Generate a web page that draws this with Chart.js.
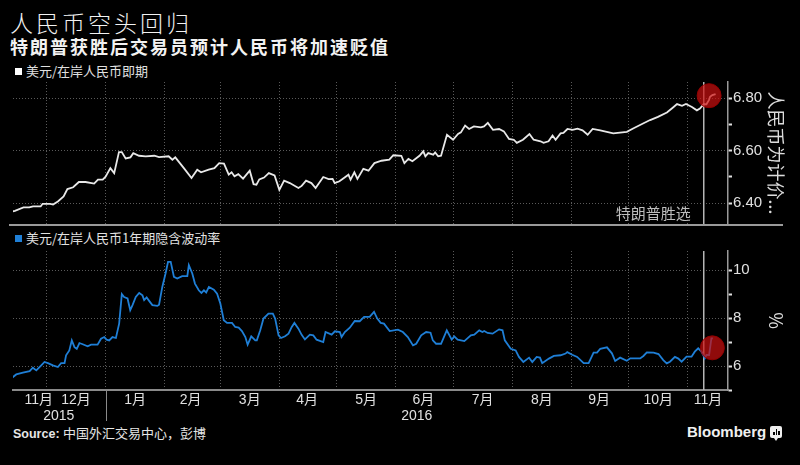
<!DOCTYPE html>
<html><head><meta charset="utf-8">
<script src="https://cdn.jsdelivr.net/npm/chart.js@4.4.1/dist/chart.umd.min.js"></script>
<style>
html,body{margin:0;padding:0;background:#000;}
#wrap{position:relative;width:800px;height:465px;overflow:hidden;background:#000;font-family:'Liberation Sans','Noto Sans CJK SC',sans-serif;color:#ddd;}
canvas{position:absolute;left:0;top:0;}
.t{position:absolute;white-space:nowrap;}
#title{left:10px;top:9px;font-family:'Noto Sans CJK SC';font-size:23px;line-height:26px;letter-spacing:3px;font-weight:300;color:#f2f2f2;}
#sub{left:10px;top:35px;font-family:'Noto Sans CJK SC';font-size:18px;line-height:22px;letter-spacing:2px;font-weight:700;color:#f2f2f2;}
.leg{left:15px;font-family:'Noto Sans CJK SC';font-size:13px;line-height:16px;color:#e0e0e0;}
.sq{display:inline-block;width:7px;height:7px;margin-right:4px;vertical-align:1px;}
#sep{position:absolute;left:9px;top:224px;width:774px;height:2px;background:#9a9a9a;}
#src{left:13px;top:425px;font-size:12.5px;line-height:16px;color:#e6e6e6;}
#src b{font-family:'Liberation Sans';}
#src span{font-family:'Noto Sans CJK SC';font-size:13px;}
#bb{left:687px;top:423px;font-family:'Liberation Sans';font-weight:700;font-size:15px;line-height:18px;color:#f0f0f0;}
#ico{position:absolute;left:770px;top:426px;width:12px;height:12px;background:#eee;border-radius:2px;}
#ico i{position:absolute;bottom:3px;width:1.5px;background:#000;}
#ico:after{content:'';position:absolute;left:4px;top:12px;border-left:2px solid transparent;border-right:2px solid transparent;border-top:3px solid #eee;}
</style></head><body>
<div id="wrap">
<div class="t" id="title">人民币空头回归</div>
<div class="t" id="sub">特朗普获胜后交易员预计人民币将加速贬值</div>
<div class="t leg" style="top:63px"><span class="sq" style="background:#fff"></span>美元/在岸人民币即期</div>
<div id="sep"></div>
<div class="t leg" style="top:230px"><span class="sq" style="background:#1f7fd6"></span>美元/在岸人民币1年期隐含波动率</div>
<div class="t" id="src"><b>Source:</b> <span>中国外汇交易中心，彭博</span></div>
<div class="t" id="bb">Bloomberg</div>
<div id="ico"><i style="left:3px;height:3px"></i><i style="left:5.5px;height:6px"></i><i style="left:8px;height:4px"></i></div>
<canvas id="c1" width="800" height="465"></canvas>
<canvas id="c2" width="800" height="465"></canvas>
</div>
<script>
// x values are days counted from 2016-01-01
const spotDays = [-49,-47.5,-43,-40,-38,-34,-33,-29,-27.5,-25,-22,-20,-17,-14,-10.5,-6,-4,-1.5,0,2.5,4.5,7,8.5,10.5,13,14.5,17.5,21,25.5,28,33,35,36.5,41,45,48,50,54,57,59.5,62,64.5,66,67.5,69.5,72,75.5,77.5,79,80.5,83,85.5,88.5,91,93.5,96.5,101,102.7,105,107.8,110,114,116.8,118.9,120,122.5,127.2,128.3,130.3,131.9,135,137.7,140.8,144.5,148.6,150.7,154.9,156.5,158.6,160.7,164.4,166.4,167.5,169,171.6,172.6,174.2,175.7,178.8,182,184.6,186.1,188.3,190.4,192.9,196.6,198.2,200.2,202.9,206.1,208.6,211.3,213.8,215.4,218.6,222,224.2,227.8,229.4,232,234.1,235.7,238.3,239.8,241.9,244.6,247.2,249.8,252.5,255.1,259.1,265.9,273,276.3,281.5,285.2,289.3,294,297.2,299.3,301.9,304,307.1,309.7,311.3,313.3,314.7,316,316.6,317.8,319.5];
const spotValues = [6.368,6.370,6.383,6.383,6.387,6.387,6.397,6.397,6.394,6.406,6.425,6.453,6.460,6.480,6.480,6.474,6.489,6.489,6.500,6.533,6.514,6.594,6.594,6.570,6.574,6.590,6.580,6.578,6.580,6.575,6.578,6.565,6.574,6.533,6.495,6.527,6.517,6.527,6.533,6.552,6.550,6.508,6.517,6.502,6.510,6.493,6.523,6.472,6.470,6.490,6.497,6.514,6.505,6.450,6.485,6.476,6.457,6.465,6.485,6.476,6.457,6.499,6.491,6.492,6.476,6.483,6.508,6.489,6.517,6.492,6.530,6.523,6.552,6.561,6.565,6.582,6.580,6.552,6.568,6.559,6.580,6.597,6.578,6.590,6.584,6.593,6.578,6.580,6.660,6.641,6.663,6.669,6.695,6.682,6.692,6.688,6.692,6.705,6.679,6.682,6.673,6.644,6.641,6.629,6.641,6.663,6.641,6.635,6.629,6.635,6.657,6.641,6.665,6.667,6.682,6.679,6.683,6.677,6.660,6.682,6.677,6.665,6.671,6.684,6.703,6.716,6.728,6.745,6.764,6.777,6.770,6.777,6.766,6.753,6.760,6.777,6.776,6.792,6.805,6.811,6.815];
const volDays = [-49,-46.8,-43.3,-39.8,-38.1,-36.3,-33.7,-32,-30.2,-27.6,-25,-23.3,-21.5,-20.7,-19,-17.7,-16.3,-15.1,-13.7,-12,-9.4,-7.6,-4.2,-2.4,-0.7,0.5,1.9,3.6,5.4,7.1,8.5,9.7,11.5,12.9,14.1,15.8,17.6,19.3,20.2,21.5,22.8,24.5,27.1,28,29.7,31.4,32.7,34.1,35.8,37.5,40.1,42.8,43.6,45.4,46.8,48.8,50.2,51.5,52.7,54.1,56.7,58.4,60.1,61.9,63.6,66.2,67.9,69.7,71.4,73.2,74.4,76.3,78.4,79.2,81,82.7,85.3,87.6,88.8,90.6,91.9,94,95.8,97.5,98.9,101,102.7,104.4,107,108.8,110.5,114,115.2,118.4,120.1,122.7,123.6,125.3,127.9,130.5,133.1,135.4,138.3,140.6,142.3,144.1,145.8,148.8,153.1,155.7,158.3,161,162.7,165.3,167.9,170.2,171.4,173.1,175.7,178.7,181.3,182.6,184.4,187.9,191.3,193.1,195.7,197.4,198.3,200.1,202.7,206.1,207.9,209.1,212.2,214.8,216.5,218.8,221.8,223.5,225.8,227.5,228.7,232.2,234.8,238.3,240.9,241.8,244.4,247,250.4,253,255.6,257.4,259.1,262.6,265.2,266.9,269.5,273,274.8,280,281.7,283.5,287,289.6,292.1,293.9,295.6,298.2,300,301.7,304.3,306.9,308.6,310.4,312.1,313.3,313.8,314.7,316.1,317.3,317.6];
const volValues = [5.51,5.65,5.72,5.79,5.93,5.82,6.03,6.17,6.12,6.03,5.96,6.12,6.12,6.45,6.65,7.07,6.79,6.72,6.96,6.91,6.82,6.89,6.89,7.14,7.21,7.10,7.07,7.21,7.17,7.77,9.00,8.88,8.82,8.33,8.54,8.88,9.05,8.95,8.75,8.86,8.72,8.54,8.51,8.56,9.30,9.86,10.35,10.35,9.72,9.65,9.75,9.75,10.21,9.86,9.44,9.16,9.05,9.16,9.07,9.30,9.19,9.02,8.61,7.91,7.80,7.80,7.63,7.60,7.46,7.21,6.89,7.24,7.07,7.07,7.49,7.98,8.19,8.19,7.98,7.28,7.17,7.24,7.35,7.63,7.80,7.56,7.30,7.11,7.31,7.28,7.10,7.00,7.42,7.31,7.45,7.42,7.21,7.42,7.60,7.88,7.87,8.05,8.05,8.26,7.98,7.80,7.77,7.46,7.52,7.42,7.21,6.86,6.93,7.28,7.42,7.39,7.07,6.93,6.93,7.49,7.10,7.24,7.10,7.04,7.28,7.31,7.49,7.42,7.46,7.38,7.35,7.53,7.49,7.07,6.72,6.65,6.38,6.17,6.35,6.17,6.38,6.35,6.12,6.31,6.42,6.45,6.52,6.58,6.47,6.38,6.12,6.12,6.56,6.56,6.72,6.78,6.53,6.21,6.35,6.22,6.32,6.32,6.42,6.57,6.56,6.50,6.25,6.11,6.18,6.38,6.31,6.18,6.39,6.39,6.60,6.74,6.60,6.42,6.32,6.46,6.46,7.15,7.19];

const electionDay = 313.3;
const electionLabel = '特朗普胜选';
const spotCircle = {x: 316.1, y: 6.809};
const volCircle = {x: 317.8, y: 6.76};

const xMin = -48.5, xMax = 326;
const spotMin = 6.32, spotMax = 6.861;
const volMin = 5, volMax = 10.8;

const monthBoundaries = [-31,0,31,60,91,121,152,182,213,244,274,305];
const monthLabelDays = [-35,-15.5,15.5,44.5,75.5,105.5,136.5,166.5,197.5,228.5,258.5,289.5,315.5];
const monthLabels = ['11月','12月','1月','2月','3月','4月','5月','6月','7月','8月','9月','10月','11月'];
const yearLabelDays = [-24.5,163];
const yearLabels = ['2015','2016'];

const spotTicks = [6.4,6.5,6.6,6.7,6.8];
const spotLabeled = [6.4,6.6,6.8];
const volTicks = [5,6,7,8,9,10];
const volLabeled = [6,8,10];

const spotTitle = '人民币为计价...';
const volTitle = '%';

const GRID = '#5a5a5a';
const FONT = "'Liberation Sans','Noto Sans CJK SC',sans-serif";
const near = (a,b) => Math.abs(a-b) < 1e-6;
const inList = (v, list) => list.some(l => near(l, v));

const xTickDefs = [];
monthBoundaries.forEach(v => xTickDefs.push({v, label: '', grid: true}));
monthLabelDays.forEach((v,i) => xTickDefs.push({v, label: monthLabels[i], grid: false}));
yearLabelDays.forEach((v,i) => xTickDefs.push({v, label: ['', yearLabels[i]], grid: false}));
xTickDefs.sort((a,b) => a.v - b.v);

function yAxis(min, max, ticks, labeled, title, digits) {
  return {
    position: 'right', min, max,
    afterBuildTicks: s => { s.ticks = ticks.map(v => ({value: v})); },
    afterFit: s => { s.width = 72; },
    ticks: {
      color: '#e0e0e0', padding: 1, font: {family: FONT, size: 15},
      callback: v => inList(v, labeled) ? v.toFixed(digits) : ''
    },
    grid: {
      color: c => (c.tick && inList(c.tick.value, labeled)) ? GRID : 'rgba(0,0,0,0)',
      tickColor: '#e0e0e0', tickLength: 4, tickWidth: 2, lineWidth: 1
    },
    border: {display: true, color: '#9a9a9a', width: 1.5, dash: [1,2]},
    title: {display: true, text: title, color: '#dcdcdc', font: {family: "'Noto Sans CJK SC'", size: 18, lineHeight: 1.2}, padding: {top: 13, bottom: 0}}
  };
}

const electionText = {
  id: 'electionText',
  afterDatasetsDraw(chart) {
    const {ctx, chartArea, scales} = chart;
    const x = scales.x.getPixelForValue(electionDay);
    ctx.save();
    ctx.fillStyle = '#bdbdbd';
    ctx.font = "15px 'Noto Sans CJK SC'";
    ctx.textAlign = 'right';
    ctx.textBaseline = 'middle';
    ctx.fillText(electionLabel, x - 13, chartArea.bottom - 11);
    ctx.restore();
  }
};
const yearSep = {
  id: 'yearSep',
  afterDraw(chart) {
    const {ctx, chartArea, scales} = chart;
    const x = Math.round(scales.x.getPixelForValue(0)) + 0.5;
    ctx.save();
    ctx.strokeStyle = '#8a8a8a';
    ctx.lineWidth = 1;
    ctx.beginPath();
    ctx.moveTo(x, chartArea.bottom);
    ctx.lineTo(x, chartArea.bottom + 31);
    ctx.stroke();
    ctx.restore();
  }
};

function circleDs(pt) {
  return {data: [pt], showLine: false, pointRadius: 12, pointHoverRadius: 12,
    pointBackgroundColor: 'rgba(205,15,15,0.7)', pointBorderColor: 'rgba(150,0,0,0.9)', pointBorderWidth: 1, clip: false};
}
function vlineDs(lo, hi) {
  return {data: [{x: electionDay, y: lo}, {x: electionDay, y: hi}], borderColor: '#b5b5b5', borderWidth: 1.5, pointRadius: 0};
}

new Chart(document.getElementById('c1'), {
  type: 'line',
  data: {datasets: [
    circleDs(spotCircle),
    {data: spotDays.map((d,i) => ({x: d, y: spotValues[i]})), borderColor: '#e8e8e8', borderWidth: 1.8, pointRadius: 0, tension: 0},
    vlineDs(spotMin, spotMax)
  ]},
  options: {
    responsive: false, animation: false, events: [],
    layout: {padding: {left: 10, top: 82, right: 0, bottom: 241}},
    plugins: {legend: {display: false}, tooltip: {enabled: false}},
    scales: {
      x: {type: 'linear', min: xMin, max: xMax,
        afterBuildTicks: s => { s.ticks = monthBoundaries.map(v => ({value: v})); },
        afterFit: s => { s.height = 0; },
        ticks: {display: false},
        grid: {color: GRID, drawTicks: false},
        border: {display: false, dash: [1,2]}
      },
      y: yAxis(spotMin, spotMax, spotTicks, spotLabeled, spotTitle, 2)
    }
  },
  plugins: [electionText]
});

new Chart(document.getElementById('c2'), {
  type: 'line',
  data: {datasets: [
    circleDs(volCircle),
    {data: volDays.map((d,i) => ({x: d, y: volValues[i]})), borderColor: '#1f7fd6', borderWidth: 1.8, pointRadius: 0, tension: 0},
    vlineDs(volMin, volMax)
  ]},
  options: {
    responsive: false, animation: false, events: [],
    layout: {padding: {left: 10, top: 251, right: 0, bottom: 35}},
    plugins: {legend: {display: false}, tooltip: {enabled: false}},
    scales: {
      x: {type: 'linear', min: xMin, max: xMax,
        afterBuildTicks: s => { s.ticks = xTickDefs.map(d => ({value: d.v})); },
        afterFit: s => { s.height = 40; },
        ticks: {autoSkip: false, maxRotation: 0, minRotation: 0, padding: 2, color: '#e0e0e0',
          font: {family: FONT, size: 14, lineHeight: 1.15},
          callback: v => { const d = xTickDefs.find(t => near(t.v, v)); return d ? d.label : ''; }
        },
        grid: {color: c => { if (!c.tick) return GRID; const d = xTickDefs.find(t => near(t.v, c.tick.value)); return d && d.grid ? GRID : 'rgba(0,0,0,0)'; }, drawTicks: false},
        border: {display: true, color: '#8a8a8a', width: 2, dash: [1,2]}
      },
      y: yAxis(volMin, volMax, volTicks, volLabeled, volTitle, 0)
    }
  },
  plugins: [yearSep]
});
</script>
</body></html>
